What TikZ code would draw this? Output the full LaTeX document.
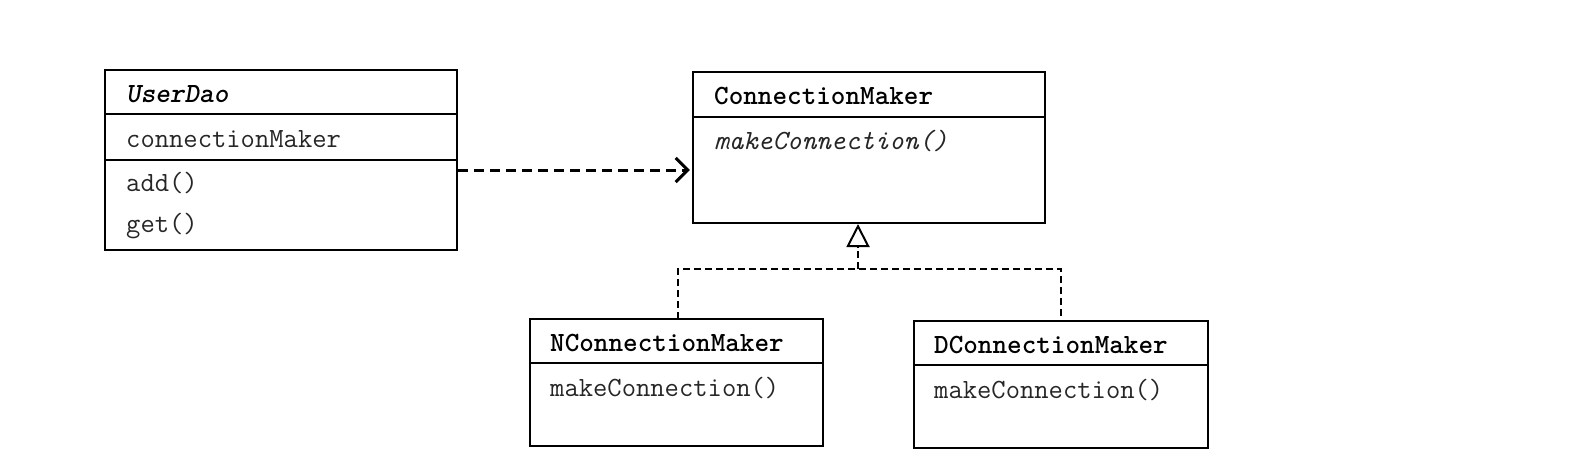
\documentclass[tikz,border=0pt]{standalone}
\usetikzlibrary{arrows.meta}
\begin{document}
\begin{tikzpicture}[x=1pt,y=-1pt,
  classbox/.style={draw=black,line width=2.5pt,rectangle,inner sep=0pt},
  divider/.style={line width=2pt},
  txt/.style={anchor=west,inner sep=0pt,font=\fontsize{27.8}{32}\selectfont\ttfamily,text=black!85},
  title/.style={txt,font=\fontsize{27.8}{32}\selectfont\ttfamily\bfseries,text=black},
  dep/.style={line width=3pt,dash pattern=on 10pt off 6pt,-{Straight Barb[length=12pt,width=24pt,line width=3pt]}},
  real/.style={line width=2pt,dash pattern=on 7pt off 4pt},
  realtip/.style={real,-{Triangle[open,length=23pt,width=23pt,line width=2pt]}}
]
\useasboundingbox (0,0) rectangle (1592,472);
% UserDao
\node[classbox,minimum width=352pt,minimum height=180pt] (ud) at (281,160) {};
\draw[divider] (105,114) -- (457,114);
\draw[divider] (105,160) -- (457,160);
\node[title,font=\fontsize{27.8}{32}\selectfont\ttfamily\bfseries\itshape] (udt) at (126,94) {UserDao};
\node[txt] (uda) at (126,139) {connectionMaker};
\node[txt] (udm1) at (126,183) {add()};
\node[txt] (udm2) at (126,226) {get()};
% ConnectionMaker
\node[classbox,minimum width=352pt,minimum height=151pt] (cm) at (869,147.5) {};
\draw[divider] (693,117) -- (1045,117);
\node[title] (cmt) at (714,96) {ConnectionMaker};
\node[txt,font=\fontsize{27.8}{32}\selectfont\ttfamily\itshape] (cmm) at (714,141) {makeConnection()};
% NConnectionMaker
\node[classbox,minimum width=293pt,minimum height=127pt] (nc) at (676.5,382.5) {};
\draw[divider] (530,363) -- (823,363);
\node[title] (nct) at (550,343) {NConnectionMaker};
\node[txt] (ncm) at (550,388) {makeConnection()};
% DConnectionMaker
\node[classbox,minimum width=294pt,minimum height=127pt] (dc) at (1061,384.5) {};
\draw[divider] (914,365) -- (1208,365);
\node[title] (dct) at (934,345) {DConnectionMaker};
\node[txt] (dcm) at (934,390) {makeConnection()};
% dependency
\coordinate (ds) at (ud.east |- 0,170);
\coordinate (de) at (cm.west |- 0,170);
\draw[dep] (ds) -- ([xshift=-2pt]de);
% realization
\coordinate (j) at (858,269);
\coordinate (ap) at (858,224);
\draw[real] (678,319) -- (678,269) -- (j) -- (1061,269) -- (dc.north);
\draw[realtip] (j) -- (ap);
\end{tikzpicture}
\end{document}
